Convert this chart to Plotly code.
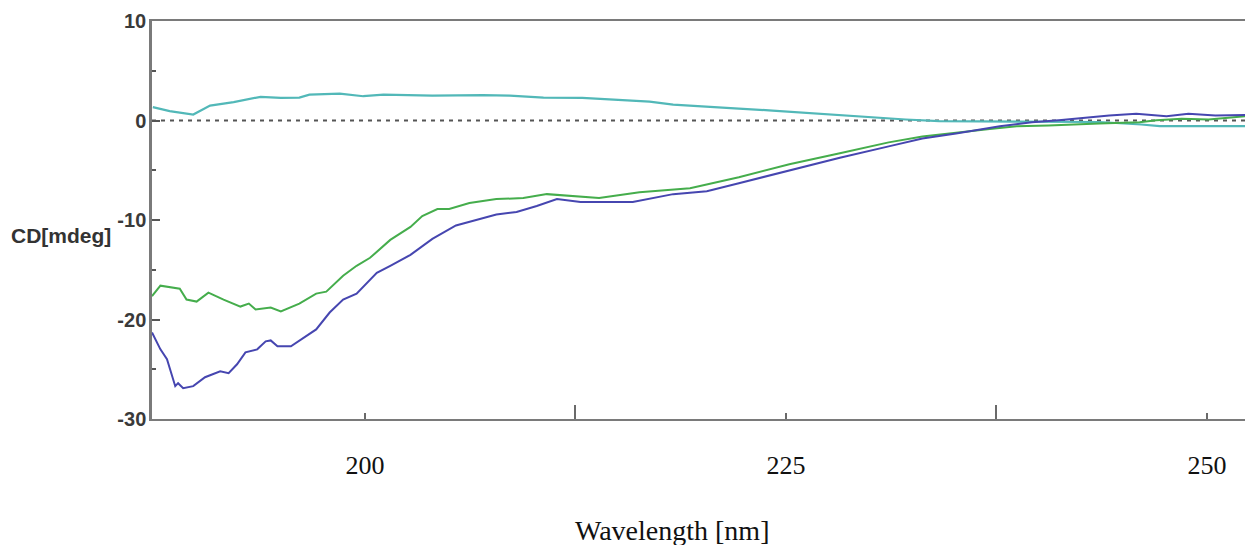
import plotly.graph_objects as go

# ---- data ----
cyan_wl = [187.4, 188.4, 189.8, 190.8, 192.2, 193.8, 195.0, 196.1, 196.7, 198.5, 199.9, 201.1,
           204.0, 207.0, 208.6, 210.6, 212.9, 215.1, 216.9, 218.3, 220.3, 222.2, 224.2, 226.2,
           228.2, 230.1, 232.1, 234.1, 237.7, 243.6, 246.1, 247.2, 252.3]
cyan_cd = [1.35, 0.94, 0.6, 1.5, 1.84, 2.38, 2.28, 2.3, 2.6, 2.7, 2.44, 2.6,
           2.5, 2.55, 2.5, 2.3, 2.28, 2.04, 1.9, 1.6, 1.37, 1.2, 1.0, 0.77,
           0.54, 0.27, 0.1, -0.07, -0.1, -0.15, -0.4, -0.57, -0.57]

green_wl = [187.35, 187.85, 189.0, 189.4, 190.0, 190.7, 191.6, 192.6, 193.1, 193.5, 194.4, 195.0,
            196.1, 197.1, 197.7, 198.7, 199.5, 200.3, 201.5, 202.7, 203.4, 204.3, 205.0, 206.2,
            207.8, 209.4, 210.8, 212.3, 213.9, 216.3, 219.3, 222.2, 225.2, 228.2, 231.1, 233.1,
            235.1, 237.1, 238.7, 240.6, 243.6, 246.0, 247.0, 248.5, 250.1, 252.3]
green_cd = [-17.66, -16.6, -16.9, -18.0, -18.2, -17.3, -18.0, -18.7, -18.4, -19.0, -18.8, -19.2,
            -18.4, -17.4, -17.2, -15.6, -14.6, -13.8, -12.0, -10.7, -9.6, -8.9, -8.9, -8.3,
            -7.9, -7.8, -7.4, -7.6, -7.8, -7.2, -6.8, -5.7, -4.4, -3.3, -2.2, -1.6,
            -1.2, -0.85, -0.57, -0.5, -0.3, -0.17, 0.03, 0.17, 0.1, 0.43]

blue_wl = [187.35, 187.85, 188.24, 188.73, 188.9, 189.2, 189.8, 190.5, 191.4, 191.9, 192.4, 192.9,
           193.6, 194.1, 194.4, 194.8, 195.6, 196.3, 197.1, 197.9, 198.7, 199.5, 200.7, 201.5,
           202.7, 204.0, 205.4, 206.6, 207.8, 209.0, 210.2, 211.4, 212.8, 214.4, 215.9, 218.3,
           220.3, 222.2, 225.2, 228.2, 231.1, 233.1, 235.1, 237.7, 239.6, 241.2, 244.2, 245.8,
           247.6, 248.9, 250.5, 252.3]
blue_cd = [-21.3, -23.0, -24.0, -26.7, -26.4, -26.9, -26.7, -25.8, -25.2, -25.4, -24.5, -23.3,
           -23.0, -22.2, -22.1, -22.7, -22.7, -21.9, -21.0, -19.3, -18.0, -17.4, -15.3, -14.6,
           -13.5, -11.9, -10.55, -10.0, -9.45, -9.2, -8.6, -7.9, -8.2, -8.2, -8.2, -7.4,
           -7.1, -6.3, -5.0, -3.75, -2.6, -1.8, -1.3, -0.57, -0.17, 0.03, 0.5, 0.67,
           0.43, 0.67, 0.5, 0.55]

x_tick_vals = [200, 225, 250]
x_tick_text = ["200", "225", "250"]
x_major_marks = [212.5, 237.5]
y_tick_vals = [10, 0, -10, -20, -30]
y_tick_text = ["10", "0", "-10", "-20", "-30"]
y_minor_vals = [5, -5, -15, -25]

fig = go.Figure()
fig.add_trace(go.Scatter(x=cyan_wl, y=cyan_cd, mode="lines",
                         line=dict(color="#52b8b8", width=2.2)))
fig.add_trace(go.Scatter(x=green_wl, y=green_cd, mode="lines",
                         line=dict(color="#45ad4c", width=2)))
fig.add_trace(go.Scatter(x=blue_wl, y=blue_cd, mode="lines",
                         line=dict(color="#4646b0", width=2)))

fig.add_shape(type="line", xref="paper", yref="y", x0=0, x1=1, y0=0, y1=0,
              line=dict(color="#555555", width=2, dash="4px,5px"), layer="below")

fig.update_layout(
    width=1245, height=545,
    margin=dict(l=152, r=0, t=21, b=126),
    paper_bgcolor="white", plot_bgcolor="white",
    showlegend=False,
    xaxis=dict(range=[187.35, 252.26], showgrid=False, zeroline=False,
               showline=True, linecolor="#7a7a7a", linewidth=2, mirror=True,
               tickmode="array", tickvals=x_tick_vals, ticktext=x_tick_text,
               ticks="inside", ticklen=6, tickwidth=2, tickcolor="#6a6a6a",
               minor=dict(tickmode="array", tickvals=x_major_marks, ticks="inside",
                          ticklen=14, tickwidth=2, tickcolor="#6a6a6a", showgrid=False),
               ticklabelstandoff=22,
               tickfont=dict(family="Liberation Serif, Times New Roman, serif", size=26, color="#111111")),
    yaxis=dict(range=[-30, 10], showgrid=False, zeroline=False,
               showline=True, linecolor="#7a7a7a", linewidth=2.5,
               tickmode="array", tickvals=y_tick_vals, ticktext=y_tick_text,
               ticks="inside", ticklen=8, tickwidth=2, tickcolor="#555555",
               minor=dict(tickmode="array", tickvals=y_minor_vals, ticks="inside",
                          ticklen=4, tickwidth=2, tickcolor="#555555", showgrid=False),
               ticklabelstandoff=-1,
               tickfont=dict(family="Liberation Sans, Arial, sans-serif", size=20,
                             color="#3a3a3a", weight="bold")),
)

fig.add_annotation(text="CD[mdeg]", xref="paper", yref="paper",
                   x=-0.0357, y=0.462, xanchor="right", yanchor="middle", showarrow=False,
                   font=dict(family="Liberation Sans, Arial, sans-serif", size=21,
                             color="#333333", weight="bold"))
fig.add_annotation(text="Wavelength [nm]", xref="paper", yref="paper",
                   x=(672 - 152) / 1093, y=(419 - 530) / 398, xanchor="center", yanchor="middle",
                   showarrow=False,
                   font=dict(family="Liberation Serif, Times New Roman, serif", size=28, color="#111111"))

fig.write_html("out.html")
